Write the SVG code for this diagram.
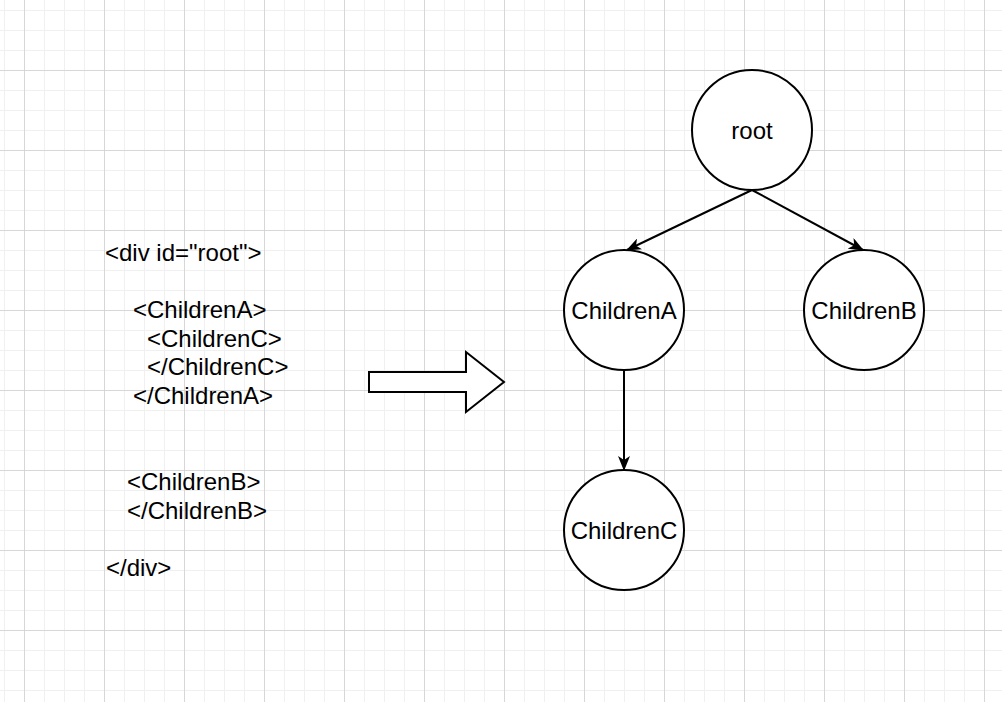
<svg xmlns="http://www.w3.org/2000/svg" width="1002" height="702" viewBox="0 0 1002 702">
<style>
.t{font-family:"Liberation Sans",Arial,Helvetica,sans-serif;font-size:24px;fill:#000}
.c{fill:#fff;stroke:#000;stroke-width:2}
.e{fill:none;stroke:#000;stroke-width:2}
</style>
<defs>
<pattern id="minor" x="4" y="10" width="20" height="20" patternUnits="userSpaceOnUse">
<path d="M0,0 H20 M0,0 V20" fill="none" stroke="#f0f0f0" stroke-width="2"/>
</pattern>
<pattern id="major" x="24" y="70" width="80" height="80" patternUnits="userSpaceOnUse">
<path d="M0,0 H80 M0,0 V80" fill="none" stroke="#d0d0d0" stroke-width="1.5"/>
</pattern>
<marker id="arr" viewBox="0 0 15 12" refX="14" refY="6" markerWidth="15" markerHeight="12" markerUnits="userSpaceOnUse" orient="auto">
<path d="M0,0 L15,6 L0,12 L4,6 Z" fill="#000"/>
</marker>
</defs>
<rect width="1002" height="702" fill="#fff"/>
<rect width="1002" height="702" fill="url(#minor)"/>
<rect width="1002" height="702" fill="url(#major)"/>

<g id="code">
<text class="t" x="105" y="261">&lt;div id="root"&gt;</text>
<text class="t" x="133" y="318">&lt;ChildrenA&gt;</text>
<text class="t" x="147" y="347">&lt;ChildrenC&gt;</text>
<text class="t" x="147" y="375">&lt;/ChildrenC&gt;</text>
<text class="t" x="133" y="404">&lt;/ChildrenA&gt;</text>
<text class="t" x="127" y="490">&lt;ChildrenB&gt;</text>
<text class="t" x="127" y="519">&lt;/ChildrenB&gt;</text>
<text class="t" x="106" y="576">&lt;/div&gt;</text>
</g>

<g id="blockArrow">
<polygon points="369,372 466,372 466,352 504,382 466,412 466,392 369,392" fill="#fff" stroke="#000" stroke-width="2"/>
</g>

<g id="connectors">
<line class="e" x1="752" y1="190" x2="627" y2="250" marker-end="url(#arr)"/>
<line class="e" x1="752" y1="190" x2="863" y2="250" marker-end="url(#arr)"/>
<line class="e" x1="624" y1="370" x2="624" y2="470" marker-end="url(#arr)"/>
</g>

<g id="root">
<circle class="c" cx="752" cy="130" r="60"/>
<text class="t" x="752" y="139" text-anchor="middle">root</text>
</g>
<g id="childrenA">
<circle class="c" cx="624" cy="310" r="60"/>
<text class="t" x="624" y="319" text-anchor="middle">ChildrenA</text>
</g>
<g id="childrenB">
<circle class="c" cx="864" cy="310" r="60"/>
<text class="t" x="864" y="319" text-anchor="middle">ChildrenB</text>
</g>
<g id="childrenC">
<circle class="c" cx="624" cy="530" r="60"/>
<text class="t" x="624" y="539" text-anchor="middle">ChildrenC</text>
</g>
</svg>
